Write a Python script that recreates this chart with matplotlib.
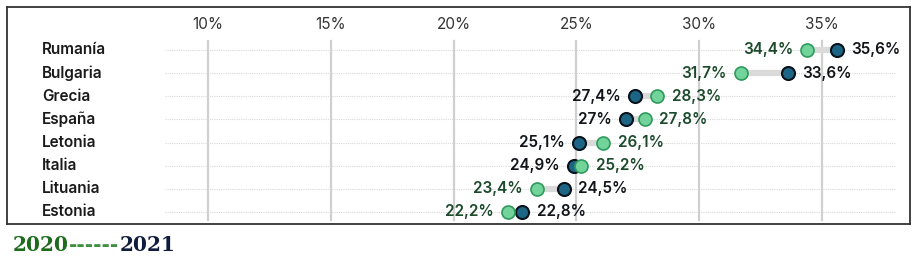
import matplotlib
matplotlib.use("Agg")
import matplotlib.pyplot as plt
import numpy as np

countries = ["Rumanía", "Bulgaria", "Grecia", "España", "Letonia", "Italia", "Lituania", "Estonia"]
v2020 = [34.4, 31.7, 28.3, 27.8, 26.1, 25.2, 23.4, 22.2]
v2021 = [35.6, 33.6, 27.4, 27.0, 25.1, 24.9, 24.5, 22.8]
xticks = [10, 15, 20, 25, 30, 35]
xtick_labels = ["10%", "15%", "20%", "25%", "30%", "35%"]

W, H = 919, 257
fig = plt.figure(figsize=(W / 100, H / 100), dpi=100)
fig.patch.set_facecolor("white")
ax_l, ax_t, ax_r, ax_b = 7, 7, 910, 224
ax = fig.add_axes([ax_l / W, 1 - ax_b / H, (ax_r - ax_l) / W, (ax_b - ax_t) / H])

ppu = 24.56
xmin = 10 - (208 - ax_l) / ppu
xmax = xmin + (ax_r - ax_l) / ppu
ax.set_xlim(xmin, xmax)
row0, rstep = 50, 23.14
ax.set_ylim((ax_b - row0) / rstep, (ax_t - row0) / rstep)
ax.set_xticks([])
ax.set_yticks([])
for s in ax.spines.values():
    s.set_color("#333333")
    s.set_linewidth(1.3)

font = ["Inter", "DejaVu Sans"]
green_fill, green_edge = "#72d49b", "#2f9a5c"
dark_fill, dark_edge = "#1d6584", "#08131c"
green_text, dark_text = "#1c4a2c", "#111418"

y = np.arange(len(countries))

# vertical gridlines
gy0 = (41 - row0) / rstep
gy1 = (220 - row0) / rstep
for xt, lab in zip(xticks, xtick_labels):
    ax.plot([xt, xt], [gy0, gy1], color="#d0d0d0", lw=1.6, zorder=1)
    ax.text(xt, (25 - row0) / rstep, lab, ha="center", va="center", fontsize=11,
            family=font, weight="normal", color="#333333")

# dotted row lines
hx0 = xmin + (165 - ax_l) / ppu
hx1 = xmin + (896 - ax_l) / ppu
for yi in y:
    ax.plot([hx0, hx1], [yi, yi], color="#d8d8d8", lw=0.8, ls=(0, (1, 1)), zorder=0.5)

# connectors
for yi, a, b in zip(y, v2020, v2021):
    ax.plot([a, b], [yi, yi], color="#dadada", lw=4.5, solid_capstyle="butt", zorder=2)

ax.scatter(v2021, y, s=88, color=dark_fill, edgecolor=dark_edge, linewidth=1.5, zorder=3)
ax.scatter(v2020, y, s=88, color=green_fill, edgecolor=green_edge, linewidth=1.2, zorder=4)

def fmt(v):
    if abs(v - round(v)) < 1e-9:
        return f"{int(round(v))}%"
    return f"{v:.1f}".replace(".", ",") + "%"

off = 0.58
for yi, a, b in zip(y, v2020, v2021):
    for v, col, other in ((a, green_text, b), (b, dark_text, a)):
        if v <= other:
            ax.text(v - off, yi, fmt(v), ha="right", va="center", fontsize=11,
                    family=font, weight="semibold", color=col, zorder=5)
        else:
            ax.text(v + off, yi, fmt(v), ha="left", va="center", fontsize=11,
                    family=font, weight="semibold", color=col, zorder=5)

for yi, c in zip(y, countries):
    ax.text((42 - ax_l) / (ax_r - ax_l), yi, c, transform=ax.get_yaxis_transform(),
            ha="left", va="center", fontsize=11, family=font, weight="semibold", color="#1a1a1a")

# legend text below
ty = 1 - 245 / H
lf = 14.5
t1 = fig.text(13 / W, ty, "2020", fontsize=lf, family="DejaVu Serif", weight="bold",
              color="#1e6b1e", va="center", ha="left")
fig.canvas.draw()
r = fig.canvas.get_renderer()
bb = t1.get_window_extent(r)
t2 = fig.text(bb.x1 / W, ty, "------", fontsize=lf, family="DejaVu Serif", weight="bold",
              color="#3f8f3f", va="center", ha="left")
bb2 = t2.get_window_extent(r)
fig.text(bb2.x1 / W, ty, "2021", fontsize=lf, family="DejaVu Serif", weight="bold",
         color="#0f1c3c", va="center", ha="left")

fig.savefig("out.png", dpi=100)
